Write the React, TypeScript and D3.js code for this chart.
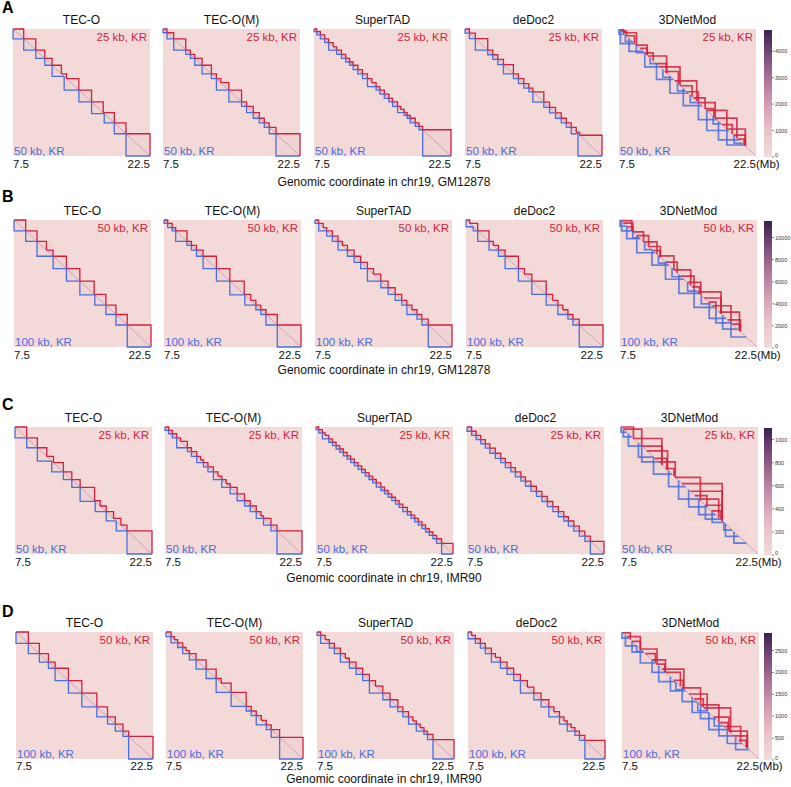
import React from 'react'
import * as d3 from 'd3'

// panel text
const methods = ['TEC-O', 'TEC-O(M)', 'SuperTAD', 'deDoc2', '3DNetMod']
const rowLetters = ['A', 'B', 'C', 'D']
const cellLines = ['GM12878', 'GM12878', 'IMR90', 'IMR90']
const upperRes = ['25 kb, KR', '50 kb, KR', '25 kb, KR', '50 kb, KR']
const lowerRes = ['50 kb, KR', '100 kb, KR', '50 kb, KR', '100 kb, KR']
const colorMax = [4800, 11500, 1100, 2900]
const colorTicks = [
  [0, 1000, 2000, 3000, 4000],
  [0, 2000, 4000, 6000, 8000, 10000],
  [0, 200, 400, 600, 800, 1000],
  [0, 500, 1000, 1500, 2000, 2500],
]
const genomeRange = [7.5, 22.5] // Mb

// TAD boundaries (Mb) for TEC-O, TEC-O(M), SuperTAD, deDoc2 — upper (red) / lower (blue)
const redA = [
  [7.5, 8.67, 9.99, 10.98, 11.78, 12.8, 13.35, 14.71, 16.1, 17.38, 18.59, 19.87, 22.5],
  [7.5, 7.94, 8.67, 9.99, 10.5, 10.98, 11.78, 12.8, 13.35, 13.83, 14.71, 16.1, 16.65, 17.38, 18.04, 18.59, 19.13, 19.87, 22.5],
  [7.5, 7.8, 8.2, 8.67, 9.1, 9.6, 9.99, 10.5, 10.98, 11.4, 11.78, 12.3, 12.8, 13.35, 13.83, 14.3, 14.71, 15.2, 15.7, 16.1, 16.65, 17.0, 17.38, 17.7, 18.04, 18.59, 19.0, 19.4, 22.5],
  [7.5, 7.98, 8.63, 9.99, 10.54, 11.09, 11.71, 12.8, 13.35, 13.94, 14.49, 14.93, 16.13, 16.76, 17.41, 18.04, 18.59, 19.13, 19.68, 20.05, 22.5],
]
const blueA = [
  [7.5, 8.67, 9.99, 10.98, 11.78, 13.1, 14.71, 16.1, 17.49, 18.59, 19.87, 22.5],
  [7.5, 7.94, 8.67, 9.99, 10.5, 10.98, 11.78, 12.8, 13.35, 14.71, 16.1, 16.65, 17.38, 18.04, 18.59, 19.13, 19.87, 22.5],
  [7.5, 7.8, 8.2, 8.67, 9.1, 9.99, 10.5, 10.98, 11.4, 11.78, 12.3, 12.8, 13.35, 14.3, 14.71, 15.2, 15.7, 16.1, 16.65, 17.38, 17.7, 18.04, 18.59, 19.0, 19.4, 22.5],
  [7.5, 7.98, 8.63, 9.99, 10.54, 11.09, 11.71, 12.8, 13.35, 13.94, 14.49, 14.93, 16.13, 16.76, 17.41, 18.04, 18.59, 19.13, 19.87, 22.5],
]
const redB = [
  [7.5, 8.78, 10.02, 11.05, 11.78, 13.24, 14.71, 16.28, 17.56, 18.66, 19.9, 22.5],
  [7.5, 7.9, 8.4, 8.78, 10.02, 10.5, 11.05, 11.78, 13.24, 14.71, 16.28, 17.0, 17.56, 18.1, 18.66, 19.9, 22.5],
  [7.5, 7.9, 8.4, 8.78, 9.4, 10.02, 10.5, 11.05, 11.78, 12.5, 13.24, 13.9, 14.71, 15.5, 16.28, 17.0, 17.56, 18.1, 18.66, 19.2, 19.9, 22.5],
  [7.5, 7.9, 8.78, 10.02, 10.5, 11.05, 11.78, 13.24, 13.9, 14.71, 16.28, 17.0, 17.56, 18.1, 18.66, 19.2, 19.9, 22.5],
]
const blueB = [
  [7.5, 8.78, 10.02, 11.78, 13.24, 14.71, 16.35, 17.56, 18.66, 19.9, 22.5],
  [7.5, 7.9, 8.4, 8.78, 10.02, 10.5, 11.05, 11.78, 13.24, 14.71, 16.35, 17.56, 18.1, 18.66, 19.9, 22.5],
  [7.5, 7.9, 8.78, 9.4, 10.02, 11.05, 11.78, 12.5, 13.24, 14.71, 15.5, 16.28, 17.0, 17.56, 18.66, 19.2, 19.9, 22.5],
  [7.5, 8.3, 8.78, 10.02, 11.05, 11.78, 13.24, 14.71, 16.28, 17.56, 18.66, 19.2, 19.9, 22.5],
]
const redC = [
  [7.5, 8.78, 9.95, 10.98, 11.71, 12.8, 13.72, 14.63, 16.21, 16.83, 17.49, 18.29, 19.1, 19.76, 22.5],
  [7.5, 7.9, 8.3, 8.78, 9.2, 9.95, 10.4, 10.98, 11.4, 11.71, 12.2, 12.8, 13.3, 13.72, 14.2, 14.63, 15.4, 16.21, 16.83, 17.49, 18.0, 18.29, 19.1, 19.76, 22.5],
  [7.5, 7.8, 8.2, 8.5, 8.9, 9.3, 9.7, 10.1, 10.5, 10.9, 11.3, 11.7, 12.1, 12.5, 12.9, 13.3, 13.7, 14.1, 14.6, 15.0, 15.4, 15.8, 16.2, 16.6, 17.0, 17.5, 17.9, 18.3, 18.7, 19.1, 19.5, 19.9, 20.3, 20.7, 21.25, 22.5],
  [7.5, 8.0, 8.5, 9.0, 9.5, 10.0, 10.6, 11.2, 11.7, 12.3, 12.8, 13.4, 13.9, 14.5, 15.1, 15.7, 16.3, 16.9, 17.5, 18.1, 18.6, 19.2, 19.8, 20.4, 21.0, 22.5],
]
const blueC = [
  [7.5, 8.78, 9.95, 11.52, 12.8, 13.72, 14.63, 16.28, 17.49, 18.59, 19.76, 22.5],
  [7.5, 7.9, 8.3, 8.78, 9.95, 10.4, 10.98, 11.71, 12.2, 12.8, 13.72, 14.63, 15.4, 16.21, 16.83, 17.49, 18.29, 19.1, 19.76, 22.5],
  [7.5, 7.8, 8.2, 8.9, 9.3, 9.7, 10.1, 10.5, 10.9, 11.3, 11.7, 12.1, 12.5, 12.9, 13.3, 13.7, 14.1, 14.6, 15.0, 15.4, 15.8, 16.2, 16.6, 17.0, 17.5, 17.9, 18.3, 18.7, 19.1, 19.5, 19.9, 20.3, 20.7, 21.25, 22.5],
  [7.5, 8.0, 8.5, 9.0, 9.5, 10.0, 10.6, 11.2, 11.7, 12.3, 12.8, 13.4, 13.9, 14.5, 15.1, 15.7, 16.3, 16.9, 17.5, 18.1, 18.6, 19.2, 19.8, 20.4, 21.0, 22.5],
]
const redD = [
  [7.5, 8.85, 10.06, 11.05, 11.78, 13.24, 14.71, 16.35, 17.52, 18.37, 19.21, 19.83, 22.5],
  [7.5, 8.05, 8.41, 8.78, 9.33, 9.7, 10.06, 10.79, 11.89, 12.99, 13.54, 14.63, 16.28, 16.83, 17.38, 17.93, 18.48, 19.02, 19.94, 22.5],
  [7.5, 7.9, 8.4, 8.85, 9.4, 10.06, 10.6, 11.05, 11.78, 12.5, 13.24, 13.9, 14.71, 15.5, 16.35, 16.9, 17.52, 18.0, 18.37, 18.8, 19.21, 19.6, 20.2, 22.5],
  [7.5, 7.9, 8.3, 8.85, 9.4, 10.06, 10.5, 11.05, 11.78, 12.5, 13.24, 14.0, 14.71, 15.5, 16.35, 16.9, 17.52, 18.0, 18.37, 18.8, 19.21, 19.7, 20.3, 22.5],
]
const blueD = [
  [7.5, 8.85, 10.06, 11.05, 11.78, 13.24, 14.71, 16.35, 17.52, 18.37, 19.21, 19.83, 22.5],
  [7.5, 8.05, 8.78, 9.33, 10.06, 10.79, 11.89, 12.99, 14.63, 16.28, 16.83, 17.38, 18.48, 19.02, 19.94, 22.5],
  [7.5, 7.9, 8.85, 9.4, 10.06, 11.05, 11.78, 12.5, 13.24, 14.71, 15.5, 16.35, 16.9, 17.52, 18.37, 19.21, 19.6, 20.2, 22.5],
  [7.5, 8.3, 8.85, 9.4, 10.06, 11.05, 11.78, 12.5, 13.24, 14.71, 15.5, 16.35, 17.52, 18.37, 19.21, 19.7, 20.3, 22.5],
]

// 3DNetMod nested domains [start, end] in Mb
const netRedA = [[7.6, 8.0], [7.76, 8.31], [7.94, 9.41], [8.3, 9.2], [9.41, 10.58], [9.8, 10.6], [10.32, 11.24], [10.69, 12.71], [11.6, 12.7], [11.97, 14.18], [12.52, 14.0], [13.62, 16.01], [14.2, 15.5], [14.91, 16.19], [15.64, 16.93], [16.2, 18.03], [16.9, 17.9], [17.11, 19.31], [18.03, 20.41], [18.8, 19.9], [19.31, 21.33], [20.04, 21.33], [20.5, 21.2]]
const netBlueA = [[7.5, 8.12], [7.65, 9.22], [8.2, 9.0], [8.6, 10.14], [9.4, 10.3], [10.32, 11.97], [10.9, 11.6], [11.61, 13.44], [12.3, 13.2], [13.07, 15.09], [13.9, 14.8], [14.54, 16.56], [15.3, 16.2], [16.19, 18.21], [17.11, 19.49], [17.8, 18.7], [18.39, 20.59], [19.31, 21.2], [20.1, 21.0]]
const netRedB = [[7.57, 8.79], [7.87, 8.9], [8.3, 8.9], [8.9, 10.08], [9.34, 10.63], [10.08, 11.55], [10.63, 11.92], [11.1, 11.9], [11.74, 13.4], [12.48, 13.77], [13.4, 15.24], [14.13, 15.61], [14.87, 16.35], [15.4, 16.2], [15.98, 18.56], [16.71, 18.56], [17.2, 18.0], [17.63, 19.66], [18.37, 20.58], [19.29, 20.69], [19.8, 20.6]]
const netBlueB = [[7.5, 8.24], [7.68, 8.79], [8.24, 9.71], [8.9, 9.6], [9.34, 11.37], [10.2, 11.0], [11.0, 12.84], [11.7, 12.6], [12.48, 14.5], [13.2, 14.2], [13.95, 16.16], [14.9, 15.9], [15.61, 17.82], [16.4, 17.4], [17.27, 19.11], [18.0, 19.66], [18.74, 20.4], [19.66, 21.32]]
const netRedC = [[7.5, 8.86], [7.76, 9.77], [8.86, 11.97], [9.77, 11.97], [10.32, 12.6], [11.2, 12.5], [11.61, 13.44], [12.4, 13.3], [13.44, 16.19], [14.18, 18.58], [15.09, 18.58], [15.6, 16.9], [16.01, 18.2], [16.74, 18.58], [17.4, 18.4]]
const netBlueC = [[7.5, 8.12], [7.76, 8.67], [8.31, 9.77], [9.41, 11.06], [9.77, 11.61], [11.06, 13.07], [12.71, 14.54], [13.81, 16.01], [14.91, 16.93], [16.01, 17.84], [16.74, 18.39], [17.48, 18.76], [18.76, 19.67], [18.94, 20.41], [19.86, 21.22]]
const netRedD = [[7.61, 8.41], [8.05, 9.51], [8.6, 9.51], [9.51, 11.34], [10.06, 11.16], [10.79, 12.26], [11.3, 12.2], [11.89, 14.27], [12.26, 13.9], [13.2, 14.2], [14.09, 16.1], [14.82, 16.83], [15.4, 16.4], [16.1, 18.11], [16.46, 19.39], [17.56, 19.21], [18.2, 19.1], [18.66, 20.49], [19.21, 21.22], [19.76, 21.22], [20.3, 21.1]]
const netBlueD = [[7.5, 8.23], [7.87, 9.15], [8.6, 9.88], [9.1, 9.8], [9.51, 11.16], [10.79, 12.26], [11.52, 13.35], [12.8, 14.45], [13.4, 14.3], [14.09, 15.73], [15.18, 17.01], [15.8, 16.8], [16.1, 17.74], [17.01, 19.02], [17.6, 18.6], [18.11, 19.76], [19.02, 20.67], [19.94, 21.4]]

const redRows = [redA, redB, redC, redD]
const blueRows = [blueA, blueB, blueC, blueD]
const netRedRows = [netRedA, netRedB, netRedC, netRedD]
const netBlueRows = [netBlueA, netBlueB, netBlueC, netBlueD]

// layout
const W = 791
const H = 787
const rowTop = [29, 220, 427, 632]
const rowShift = [0, 1, 2, 3]
const colLeft = [13, 163, 314, 465, 619]
const panelW = 137
const panelH = 127
const cbX = 764
const cbW = 8
const letterY = [13, 202, 410, 617]
const xlabelY = [186, 374, 582, 783]

const RED = '#d21f3c'
const BLUE = '#4a6fdc'
const FONT = 'Liberation Sans, Arial, sans-serif'

const cmap = d3.interpolateRgbBasis(['#f4dcda', '#e9bfc6', '#c98aa8', '#8c5588', '#3a2150'])

const toPairs = (b: number[]) => d3.pairs(b)

function Panel({ row, col }: { row: number; col: number }) {
  const x0 = colLeft[col] + rowShift[row]
  const y0 = rowTop[row]
  const xs = d3.scaleLinear().domain(genomeRange).range([x0, x0 + panelW])
  const ys = d3.scaleLinear().domain(genomeRange).range([y0, y0 + panelH])
  const isNet = col === 4
  const red = isNet ? netRedRows[row] : toPairs(redRows[row][col])
  const blue = isNet ? netBlueRows[row] : toPairs(blueRows[row][col])
  const color = d3.scaleSequential(cmap).domain([0, colorMax[row]])
  const upperPath = ([s, e]: number[]) => {
    const p = d3.path()
    p.moveTo(xs(s), ys(s)); p.lineTo(xs(e), ys(s)); p.lineTo(xs(e), ys(e))
    return p.toString()
  }
  const lowerPath = ([s, e]: number[]) => {
    const p = d3.path()
    p.moveTo(xs(s), ys(s)); p.lineTo(xs(s), ys(e)); p.lineTo(xs(e), ys(e))
    return p.toString()
  }
  const sw = isNet ? 1.7 : 1.3
  const tickY = y0 + panelH + (row === 3 ? 11 : 12)
  return (
    <g>
      <text x={x0 + panelW / 2} y={y0 - 5} textAnchor="middle" fontSize={12} fill="#111" fontFamily={FONT}>{methods[col]}</text>
      <rect x={x0} y={y0} width={panelW} height={panelH} fill={color(colorMax[row] * 0.02)} />
      {[...red, ...blue].map((d, i) => (
        <rect key={'f' + i} x={xs(d[0])} y={ys(d[0])} width={xs(d[1]) - xs(d[0])} height={ys(d[1]) - ys(d[0])} fill={color(colorMax[row] * 0.12)} opacity={isNet ? 0.15 : 0.35} />
      ))}
      <line x1={xs(genomeRange[0])} y1={ys(genomeRange[0])} x2={xs(genomeRange[1])} y2={ys(genomeRange[1])} stroke={color(colorMax[row] * 0.45)} strokeWidth={1} opacity={0.8} />
      {red.map((d, i) => (
        <path key={'r' + i} d={upperPath(d)} fill="none" stroke={RED} strokeWidth={sw} opacity={isNet ? 0.85 : 1} />
      ))}
      {blue.map((d, i) => (
        <path key={'b' + i} d={lowerPath(d)} fill="none" stroke={BLUE} strokeWidth={sw} opacity={isNet ? 0.85 : 1} />
      ))}
      <text x={x0 + panelW - 3} y={y0 + 12} textAnchor="end" fontSize={11.5} fill={RED} fontFamily={FONT}>{upperRes[row]}</text>
      <text x={x0 + 1} y={y0 + panelH - 1.5} textAnchor="start" fontSize={11.5} fill={BLUE} fontFamily={FONT}>{lowerRes[row]}</text>
      <text x={x0} y={tickY} textAnchor="start" fontSize={11.5} fill="#111" fontFamily={FONT}>{genomeRange[0]}</text>
      <text x={x0 + panelW} y={tickY} textAnchor="end" fontSize={11.5} fill="#111" fontFamily={FONT}>{genomeRange[1]}</text>
      {isNet && (
        <text x={x0 + panelW} y={tickY} textAnchor="start" fontSize={11.5} fill="#111" fontFamily={FONT}>(Mb)</text>
      )}
    </g>
  )
}

function ColorBar({ row }: { row: number }) {
  const y0 = rowTop[row] + 1
  const cs = d3.scaleLinear().domain([0, colorMax[row]]).range([y0 + panelH, y0])
  const stops = d3.range(0, 1.0001, 0.1)
  const id = 'cb' + row
  return (
    <g>
      <defs>
        <linearGradient id={id} x1="0" y1="1" x2="0" y2="0">
          {stops.map((t) => (
            <stop key={t} offset={t} stopColor={cmap(t)} />
          ))}
        </linearGradient>
      </defs>
      <rect x={cbX} y={y0} width={cbW} height={panelH} fill={`url(#${id})`} />
      {colorTicks[row].map((v) => (
        <g key={v}>
          <line x1={cbX + cbW} x2={cbX + cbW + 2} y1={cs(v)} y2={cs(v)} stroke="#333" strokeWidth={0.6} />
          <text x={cbX + cbW + 3} y={cs(v) + (v === 0 ? 0 : 2)} fontSize={5.5} fill="#333" fontFamily={FONT}>{v}</text>
        </g>
      ))}
    </g>
  )
}

export default function App() {
  return (
    <svg width={W} height={H} style={{ position: 'absolute', left: 0, top: 0, background: '#fff' }}>
      <rect width={W} height={H} fill="#fff" />
      {rowLetters.map((L, r) => (
        <g key={L}>
          <text x={2} y={letterY[r]} fontSize={16} fontWeight="bold" fill="#000" fontFamily={FONT}>{L}</text>
          {methods.map((m, c) => (
            <Panel key={m} row={r} col={c} />
          ))}
          <ColorBar row={r} />
          <text x={384} y={xlabelY[r]} textAnchor="middle" fontSize={12} fill="#111" fontFamily={FONT}>
            {`Genomic coordinate in chr19, ${cellLines[r]}`}
          </text>
        </g>
      ))}
    </svg>
  )
}
